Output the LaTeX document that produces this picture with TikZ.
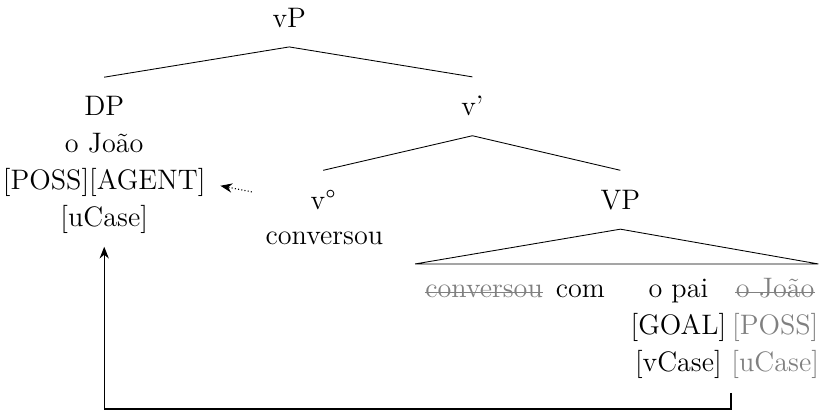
\documentclass[tikz,border=0pt]{standalone}
\usepackage{tikz}
\usetikzlibrary{arrows.meta}
\definecolor{trace}{RGB}{128, 128, 128}

\begin{document}
\begin{tikzpicture}[
        every node/.style={font=\fontsize{13}{15}\selectfont, inner sep=0pt, anchor=base},
        head/.style={outer sep=9pt},
        gone/.style={text=trace},
        strike/.style={draw=trace, line width=0.5pt},
        move/.style={-{Stealth[length=1.9mm, width=1.5mm]}, line width=0.5pt}
    ]
        \useasboundingbox (0.00, 0.00) rectangle (13.28,-6.73);
        % heads of the tree
        \node[head]  (vP)   at ( 4.69,-0.44) {vP};
        \node[head]  (DP)   at ( 1.69,-1.88) {DP};
        \node[head]  (vbar) at ( 7.66,-1.88) {v’};
        \node[head]  (vhead)at ( 5.24,-3.39) {v°};
        \node[head]  (VP)   at (10.06,-3.39) {VP};
        % material under the heads
        \node        (dpname) at ( 1.69,-2.48) {o João};
        \node        (dpfeat) at ( 1.69,-3.08) {[POSS][AGENT]};
        \node        (dpcase) at ( 1.69,-3.68) {[uCase]};
        \node        (verb)   at ( 5.26,-3.96) {conversou};
        % leaves of VP
        \node[gone]  (verbgone) at ( 7.85,-4.83) {conversou};
        \node        (com)      at ( 9.41,-4.83) {com};
        \node        (opai)     at (11.00,-4.83) {o pai};
        \node[gone]  (joaogone) at (12.57,-4.83) {o João};
        \node        (goal)     at (11.00,-5.42) {[GOAL]};
        \node[gone]  (possgone) at (12.57,-5.42) {[POSS]};
        \node        (vcase)    at (11.00,-6.02) {[vCase]};
        \node[gone]  (ucasegone)at (12.57,-6.02) {[uCase]};
        \coordinate  (triL) at ( 6.73,-4.28);
        \coordinate  (triR) at (13.27,-4.28);
        % branches
        \draw (DP.north)   -- (vP.south)   -- (vbar.north);
        \draw (vhead.north)-- (vbar.south) -- (VP.north);
        \draw (triL) -- (VP.south) -- (triR) -- cycle;
        % struck-out copies
        \draw[strike] ([yshift=2.6pt]verbgone.base west) -- ([yshift=2.6pt]verbgone.base east);
        \draw[strike] ([yshift=2.6pt]joaogone.base west) -- ([yshift=2.6pt]joaogone.base east);
        % movement
        \draw[move, densely dotted, shorten <=0.65cm, shorten >=0.24cm] (vhead.west) -- (dpfeat.east);
        \draw[move, shorten >=0.20cm] ([yshift=-0.23cm]ucasegone.south west) -- ++(0,-0.26) -| (dpcase.south);
\end{tikzpicture}
\end{document}
